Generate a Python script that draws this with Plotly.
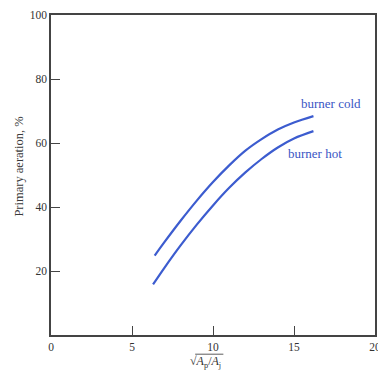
import plotly.graph_objects as go

# Data
x_cold = [6.4, 7, 8, 9, 10, 11, 12, 13, 14, 15, 16.2]
y_cold = [24.8, 29.0, 35.7, 42.0, 47.8, 53.0, 57.6, 61.2, 64.2, 66.4, 68.4]
x_hot = [6.3, 7, 8, 9, 10, 11, 12, 13, 14, 15, 16.2]
y_hot = [15.8, 21.0, 28.0, 34.5, 40.5, 46.0, 50.8, 55.0, 58.6, 61.4, 63.7]

x_ticks = [0, 5, 10, 15, 20]
y_ticks = [20, 40, 60, 80, 100]

label_cold = "burner cold"
label_hot = "burner hot"
y_title = "Primary aeration, %"

line_color = "#3c5ccf"
text_color = "#3a55c4"
axis_color = "#444444"
font_family = "Liberation Serif, Times New Roman, serif"

fig = go.Figure()
fig.add_trace(go.Scatter(x=x_cold, y=y_cold, mode="lines", line=dict(color=line_color, width=2.2, shape="spline", smoothing=1.0), showlegend=False))
fig.add_trace(go.Scatter(x=x_hot, y=y_hot, mode="lines", line=dict(color=line_color, width=2.2, shape="spline", smoothing=1.0), showlegend=False))

fig.add_annotation(x=15.3, y=72.3, text=label_cold, showarrow=False, xanchor="left", yanchor="middle",
                   font=dict(family=font_family, size=13, color=text_color))
fig.add_annotation(x=14.5, y=56.7, text=label_hot, showarrow=False, xanchor="left", yanchor="middle",
                   font=dict(family=font_family, size=13, color=text_color))

# y-axis title
fig.add_annotation(xref="paper", yref="paper", x=-0.1, y=0.525, xanchor="center", yanchor="middle",
                   text=y_title, textangle=-90, showarrow=False,
                   font=dict(family=font_family, size=12.5, color="#3a3a3a"))

# x-axis title with radical
fig.add_annotation(xref="paper", yref="paper", x=0.477, y=-0.084, yanchor="middle", xanchor="center",
                   text="√<i>A</i><sub>p</sub>/<i>A</i><sub>j</sub>", showarrow=False,
                   font=dict(family=font_family, size=12, color="#333333"))
fig.add_shape(type="line", xref="paper", yref="paper", x0=0.445, x1=0.532, y0=-0.06, y1=-0.06,
              line=dict(color="#333333", width=0.8))

fig.update_xaxes(range=[0, 20], tickvals=x_ticks, ticktext=[str(v) for v in x_ticks],
                 ticks="inside", ticklen=9, tickcolor=axis_color, tickwidth=1.3,
                 showline=True, linecolor=axis_color, linewidth=1.5, mirror=True,
                 showgrid=False, zeroline=False, automargin=False, ticklabeloverflow="allow",
                 tickfont=dict(family=font_family, size=11.5, color="#333333"))
fig.update_yaxes(range=[0, 100], tickvals=y_ticks, ticktext=[str(v) for v in y_ticks],
                 ticks="inside", ticklen=9, tickcolor=axis_color, tickwidth=1.3,
                 showline=True, linecolor=axis_color, linewidth=1.5, mirror=True,
                 showgrid=False, zeroline=False, automargin=False, ticklabeloverflow="allow",
                 tickfont=dict(family=font_family, size=11.5, color="#333333"))

fig.update_layout(width=378, height=378, margin=dict(l=51, r=3, t=15, b=43),
                  plot_bgcolor="white", paper_bgcolor="white")

fig.write_html("out.html", config={"displayModeBar": False},
               post_script="document.body.style.margin='0';document.body.style.overflow='hidden';")
